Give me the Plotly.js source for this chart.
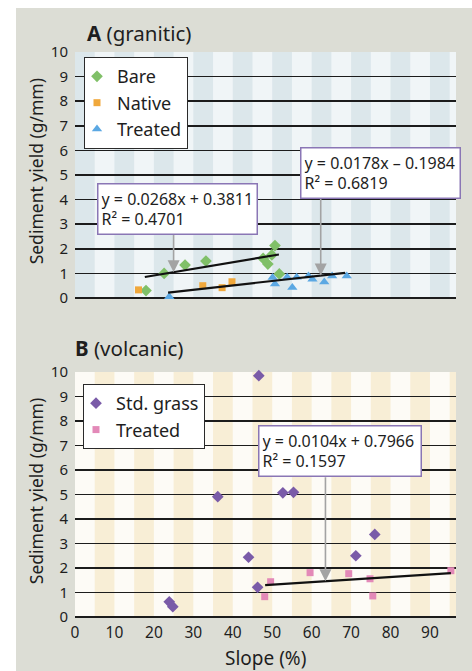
<!DOCTYPE html>
<html>
<head>
<meta charset="utf-8">
<script src="https://cdn.plot.ly/plotly-3.0.1.min.js"></script>
<style>
  html, body { margin: 0; padding: 0; background: #ffffff; }
  #chart { position: absolute; left: 16px; top: 8px; width: 456px; height: 663px; }
</style>
</head>
<body>
<div id="chart"></div>
<script>
// ---------- Panel A (granitic) ----------
const bareX = [18.0, 22.6, 27.9, 33.2, 47.7, 48.9, 49.9, 50.7, 51.8];
const bareY = [0.30, 1.00, 1.34, 1.50, 1.61, 1.38, 1.75, 2.13, 0.98];
const nativeX = [16.1, 32.4, 37.3, 39.8];
const nativeY = [0.33, 0.50, 0.42, 0.66];
const treatedAX = [23.9, 50.1, 50.7, 53.8, 55.1, 56.2, 59.2, 60.2, 63.2, 65.2, 68.9];
const treatedAY = [0.05, 0.83, 0.57, 0.84, 0.43, 0.84, 0.89, 0.76, 0.65, 0.89, 0.89];
// fitted lines: [slope, intercept], x extent
const bareFit = [0.0268, 0.3811];
const bareFitX = [17.7, 51.7];
const treatedAFit = [0.0178, -0.1984];
const treatedAFitX = [23.6, 68.5];

// ---------- Panel B (volcanic) ----------
const grassX = [23.9, 24.8, 36.2, 44.0, 46.3, 46.6, 52.7, 55.4, 71.2, 76.0];
const grassY = [0.62, 0.42, 4.91, 2.44, 1.21, 9.85, 5.07, 5.09, 2.50, 3.37];
const treatedBX = [48.1, 49.6, 59.6, 69.4, 74.8, 75.5, 95.3];
const treatedBY = [0.83, 1.44, 1.81, 1.77, 1.56, 0.86, 1.89];
const treatedBFit = [0.0104, 0.7966];
const treatedBFitX = [48.2, 95.3];

const xTicks = [0, 10, 20, 30, 40, 50, 60, 70, 80, 90];
const yTicks = [0, 1, 2, 3, 4, 5, 6, 7, 8, 9, 10];

const eqA1 = 'y = 0.0268x + 0.3811<br>R² = 0.4701';
const eqA2 = 'y = 0.0178x – 0.1984<br>R² = 0.6819';
const eqB = 'y = 0.0104x + 0.7966<br>R² = 0.1597';

const FONT = 'Noto Sans, Open Sans, sans-serif';
const TXT = '#1e1e1e';
const XMAX = 96.6;

function fitLine(fit, xs) { return xs.map(x => fit[0] * x + fit[1]); }

const traces = [
  { x: bareX, y: bareY, type: 'scatter', mode: 'markers', name: 'Bare', xaxis: 'x', yaxis: 'y',
    marker: { symbol: 'diamond', size: 9, color: '#80c068' }, cliponaxis: false, legend: 'legend', legendgroup: 'a1' },
  { x: nativeX, y: nativeY, type: 'scatter', mode: 'markers', name: 'Native', xaxis: 'x', yaxis: 'y',
    marker: { symbol: 'square', size: 7, color: '#f0a83c' }, cliponaxis: false, legend: 'legend', legendgroup: 'a2' },
  { x: treatedAX, y: treatedAY, type: 'scatter', mode: 'markers', name: 'Treated', xaxis: 'x', yaxis: 'y',
    marker: { symbol: 'triangle-up', size: 9, color: '#5ba8e3' }, cliponaxis: false, legend: 'legend', legendgroup: 'a3' },
  { x: bareFitX, y: fitLine(bareFit, bareFitX), type: 'scatter', mode: 'lines', xaxis: 'x', yaxis: 'y',
    line: { color: '#111', width: 2.2 }, showlegend: false, hoverinfo: 'skip' },
  { x: treatedAFitX, y: fitLine(treatedAFit, treatedAFitX), type: 'scatter', mode: 'lines', xaxis: 'x', yaxis: 'y',
    line: { color: '#111', width: 2.2 }, showlegend: false, hoverinfo: 'skip' },

  { x: grassX, y: grassY, type: 'scatter', mode: 'markers', name: 'Std. grass', xaxis: 'x2', yaxis: 'y2',
    marker: { symbol: 'diamond', size: 9, color: '#7a5ba8' }, cliponaxis: false, legend: 'legend2', legendgroup: 'b1' },
  { x: treatedBX, y: treatedBY, type: 'scatter', mode: 'markers', name: 'Treated', xaxis: 'x2', yaxis: 'y2',
    marker: { symbol: 'square', size: 7, color: '#e389b8' }, cliponaxis: false, legend: 'legend2', legendgroup: 'b2' },
  { x: treatedBFitX, y: fitLine(treatedBFit, treatedBFitX), type: 'scatter', mode: 'lines', xaxis: 'x2', yaxis: 'y2',
    line: { color: '#111', width: 2.2 }, showlegend: false, hoverinfo: 'skip' }
];

// background stripes
const shapes = [{ type: 'rect', xref: 'x', yref: 'y', x0: 0, x1: XMAX, y0: 0, y1: 10, layer: 'below',
  line: { width: 0 }, fillcolor: '#f0f5f7' }];
for (let k = 0; k * 5 < XMAX; k++) {
  const x0 = k * 5, x1 = Math.min(k * 5 + 5, XMAX);
  if (k % 2 === 0) {
    shapes.push({ type: 'rect', xref: 'x', yref: 'y', x0, x1, y0: 0, y1: 10, layer: 'below',
      line: { width: 0 }, fillcolor: '#dce7eb' });
  } else {
    shapes.push({ type: 'rect', xref: 'x2', yref: 'y2', x0, x1, y0: 0, y1: 10, layer: 'below',
      line: { width: 0 }, fillcolor: '#f8eed6' });
  }
}

const boxStyle = { showarrow: false, bgcolor: '#ffffff', bordercolor: '#8a76b5', borderwidth: 1.5,
  borderpad: 3, align: 'left', xanchor: 'left', yanchor: 'top', font: { family: FONT, size: 16, color: TXT } };
const arrowStyle = { text: ' ', showarrow: true, ax: 0, arrowhead: 2, arrowsize: 1.5, arrowwidth: 1.6,
  arrowcolor: '#a3a3a3', font: { size: 1 }, standoff: 0, startstandoff: 0 };

const annotations = [
  // panel titles
  { xref: 'paper', yref: 'paper', x: 0.026, y: 1.034, xanchor: 'left', yanchor: 'middle', showarrow: false,
    text: '<b>A</b> (granitic)', font: { family: FONT, size: 20.5, color: TXT } },
  { xref: 'paper', yref: 'paper', x: -0.005, y: 0.476, xanchor: 'left', yanchor: 'middle', showarrow: false,
    text: '<b>B</b> (volcanic)', font: { family: FONT, size: 20.5, color: TXT } },
  // y titles
  { xref: 'paper', yref: 'paper', x: -0.102, y: 0.789, xanchor: 'center', yanchor: 'middle', showarrow: false,
    textangle: -90, text: 'Sediment yield (g/mm)', font: { family: FONT, size: 17.5, color: TXT } },
  { xref: 'paper', yref: 'paper', x: -0.102, y: 0.223, xanchor: 'center', yanchor: 'middle', showarrow: false,
    textangle: -90, text: 'Sediment yield (g/mm)', font: { family: FONT, size: 17.5, color: TXT } },
  // x title
  { xref: 'paper', yref: 'paper', x: 0.5, y: -0.073, xanchor: 'center', yanchor: 'middle', showarrow: false,
    text: 'Slope (%)', font: { family: FONT, size: 19, color: TXT } },
  // arrows
  Object.assign({ xref: 'x', yref: 'y', x: 25, y: bareFit[0] * 25 + bareFit[1], ay: -42 }, arrowStyle),
  Object.assign({ xref: 'x', yref: 'y', x: 62.3, y: treatedAFit[0] * 62.3 + treatedAFit[1], ay: -81 }, arrowStyle),
  Object.assign({ xref: 'x2', yref: 'y2', x: 63.5, y: treatedBFit[0] * 63.5 + treatedBFit[1], ay: -106 }, arrowStyle),
  // equation boxes
  Object.assign({ xref: 'x', yref: 'y', x: 5.58, y: 4.67, text: eqA1, width: 152 }, boxStyle),
  Object.assign({ xref: 'x', yref: 'y', x: 57.05, y: 6.14, text: eqA2, width: 152 }, boxStyle),
  Object.assign({ xref: 'x2', yref: 'y2', x: 46.4, y: 7.84, text: eqB, width: 155 }, boxStyle)
];

const yAxisCommon = {
  range: [0, 10], tickvals: yTicks, ticktext: yTicks.map(String), showgrid: true, gridcolor: '#1c1c1c', gridwidth: 1.5,
  zeroline: true, zerolinecolor: '#1c1c1c', zerolinewidth: 1.5, showline: false, ticks: '',
  tickfont: { family: FONT, size: 15, color: TXT }, fixedrange: true, ticklabelstandoff: 6
};
const legendCommon = {
  bgcolor: '#ffffff', bordercolor: '#2a2a2a', borderwidth: 1, font: { family: FONT, size: 18, color: TXT },
  xanchor: 'left', yanchor: 'top', traceorder: 'grouped', tracegroupgap: 0, itemwidth: 30, indentation: -8
};

const layout = {
  width: 456, height: 663,
  margin: { l: 59, r: 16, t: 44, b: 54 },
  paper_bgcolor: '#dcddd5',
  plot_bgcolor: '#fdfbf6',
  showlegend: true,
  xaxis: { domain: [0, 1], range: [0, XMAX], anchor: 'y', showticklabels: false, showgrid: false, zeroline: false,
    showline: false, ticks: '', fixedrange: true },
  yaxis: Object.assign({ domain: [0.5646, 1], anchor: 'x' }, yAxisCommon),
  xaxis2: { domain: [0, 1], range: [0, XMAX], anchor: 'y2', tickvals: xTicks, ticktext: xTicks.map(String),
    showgrid: false, zeroline: false, showline: false, ticks: '', ticklabelstandoff: 4,
    tickfont: { family: FONT, size: 15.5, color: TXT }, fixedrange: true },
  yaxis2: Object.assign({ domain: [0, 0.4336], anchor: 'x2' }, yAxisCommon),
  legend: Object.assign({ x: 0.0236, y: 0.991 }, legendCommon),
  legend2: Object.assign({ x: 0.021, y: 0.4124 }, legendCommon),
  shapes: shapes,
  annotations: annotations
};

Plotly.newPlot('chart', traces, layout, { displayModeBar: false, staticPlot: true });
</script>
</body>
</html>
